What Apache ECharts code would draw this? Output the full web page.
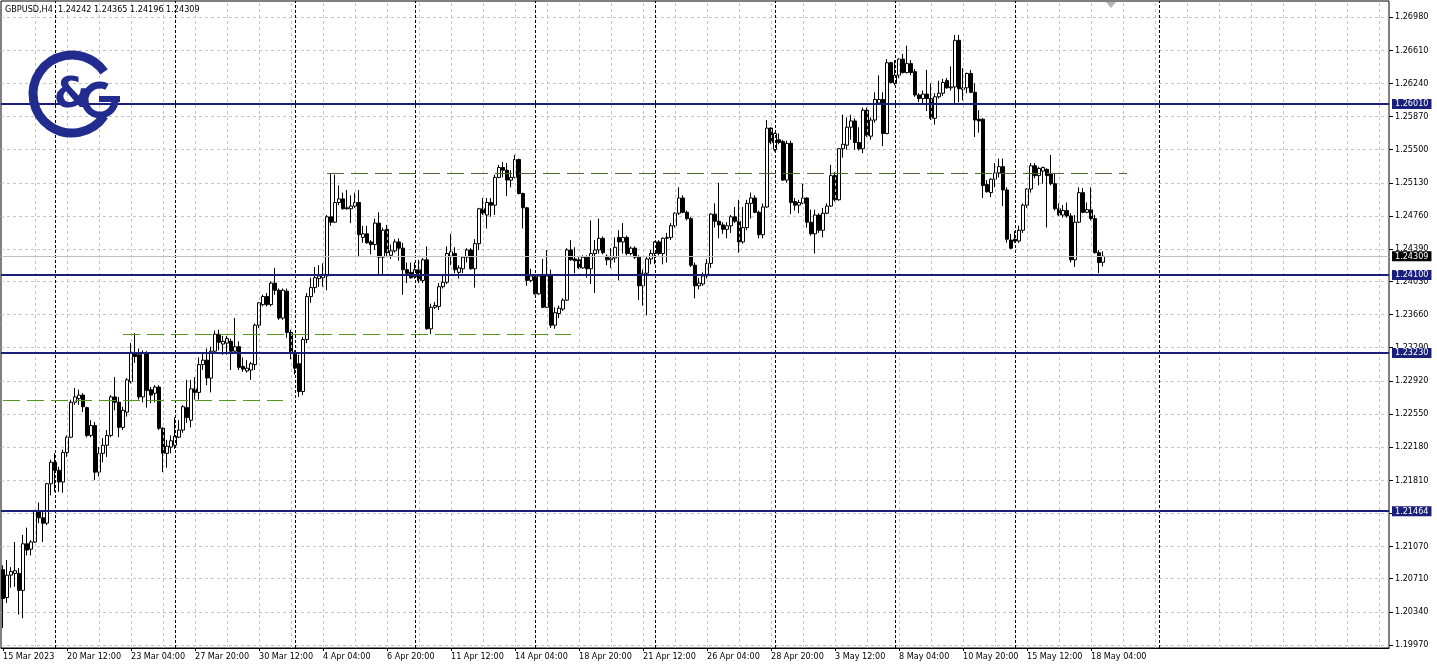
<!DOCTYPE html>
<html><head><meta charset="utf-8">
<script src="https://cdn.jsdelivr.net/npm/echarts@6/dist/echarts.min.js"></script>
<style>html,body{margin:0;padding:0;background:#fff}#c{width:1437px;height:669px}</style>
</head><body><div id="c"></div>
<script>
const FONT = '"DejaVu Sans Condensed","DejaVu Sans","Liberation Sans",sans-serif';
const headerText = 'GBPUSD,H4  1.24242 1.24365 1.24196 1.24309';

// [open, close, low, high] per H4 bar
const candles = [
[1.2081,1.2049,1.2016,1.2086],[1.2050,1.2075,1.2044,1.2092],[1.2075,1.2079,1.2061,1.2084],[1.2077,1.2080,1.2062,1.2112],
[1.2077,1.2058,1.2031,1.2083],[1.2058,1.2110,1.2027,1.2120],[1.2110,1.2103,1.2097,1.2128],[1.2104,1.2112,1.2097,1.2114],
[1.2112,1.2147,1.2111,1.2148],[1.2147,1.2139,1.2133,1.2156],[1.2139,1.2133,1.2112,1.2146],[1.2133,1.2177,1.2131,1.2178],
[1.2177,1.2201,1.2164,1.2204],[1.2201,1.2192,1.2168,1.2211],[1.2192,1.2179,1.2168,1.2196],[1.2179,1.2212,1.2167,1.2215],
[1.2212,1.2229,1.2207,1.2231],[1.2229,1.2268,1.2228,1.2271],[1.2268,1.2274,1.2265,1.2284],[1.2272,1.2276,1.2265,1.2282],
[1.2276,1.2263,1.2257,1.2278],[1.2262,1.2231,1.2229,1.2263],[1.2231,1.2242,1.2229,1.2248],[1.2242,1.2190,1.2181,1.2246],
[1.2190,1.2211,1.2185,1.2218],[1.2211,1.2220,1.2201,1.2228],[1.2220,1.2231,1.2207,1.2237],[1.2231,1.2274,1.2229,1.2276],
[1.2274,1.2268,1.2259,1.2296],[1.2268,1.2240,1.2229,1.2274],[1.2240,1.2259,1.2237,1.2263],[1.2257,1.2293,1.2252,1.2295],
[1.2291,1.2323,1.2289,1.2334],[1.2323,1.2319,1.2312,1.2345],[1.2321,1.2274,1.2271,1.2328],[1.2274,1.2323,1.2268,1.2326],
[1.2323,1.2281,1.2262,1.2325],[1.2282,1.2276,1.2267,1.2285],[1.2278,1.2285,1.2268,1.2287],[1.2285,1.2239,1.2237,1.2287],
[1.2239,1.2211,1.2190,1.2240],[1.2211,1.2219,1.2195,1.2226],[1.2218,1.2225,1.2211,1.2231],[1.2220,1.2230,1.2216,1.2251],
[1.2229,1.2237,1.2228,1.2248],[1.2237,1.2263,1.2234,1.2265],[1.2262,1.2251,1.2245,1.2293],[1.2248,1.2283,1.2240,1.2293],
[1.2283,1.2279,1.2271,1.2296],[1.2279,1.2310,1.2271,1.2318],[1.2310,1.2315,1.2304,1.2322],[1.2315,1.2295,1.2287,1.2328],
[1.2295,1.2325,1.2279,1.2330],[1.2325,1.2344,1.2323,1.2348],[1.2344,1.2335,1.2326,1.2349],[1.2333,1.2336,1.2321,1.2342],
[1.2334,1.2339,1.2321,1.2342],[1.2336,1.2325,1.2304,1.2339],[1.2325,1.2330,1.2323,1.2362],[1.2330,1.2307,1.2304,1.2336],
[1.2308,1.2305,1.2302,1.2318],[1.2303,1.2306,1.2301,1.2315],[1.2304,1.2311,1.2293,1.2313],[1.2310,1.2354,1.2304,1.2356],
[1.2354,1.2379,1.2351,1.2380],[1.2377,1.2386,1.2375,1.2388],[1.2386,1.2377,1.2375,1.2390],[1.2377,1.2401,1.2375,1.2403],
[1.2401,1.2393,1.2388,1.2418],[1.2393,1.2362,1.2360,1.2395],[1.2362,1.2393,1.2360,1.2395],[1.2392,1.2346,1.2340,1.2395],
[1.2346,1.2323,1.2316,1.2349],[1.2323,1.2306,1.2299,1.2326],[1.2311,1.2280,1.2274,1.2321],[1.2280,1.2338,1.2276,1.2341],
[1.2338,1.2386,1.2334,1.2390],[1.2386,1.2396,1.2379,1.2407],[1.2396,1.2407,1.2390,1.2419],[1.2406,1.2409,1.2397,1.2421],
[1.2407,1.2410,1.2397,1.2423],[1.2409,1.2475,1.2393,1.2477],[1.2475,1.2469,1.2465,1.2524],[1.2469,1.2491,1.2468,1.2522],
[1.2491,1.2495,1.2488,1.2510],[1.2495,1.2484,1.2483,1.2502],[1.2485,1.2484,1.2483,1.2505],[1.2484,1.2487,1.2468,1.2499],
[1.2487,1.2491,1.2485,1.2502],[1.2491,1.2455,1.2430,1.2505],[1.2452,1.2456,1.2446,1.2465],[1.2456,1.2446,1.2445,1.2465],
[1.2447,1.2444,1.2433,1.2449],[1.2444,1.2468,1.2438,1.2473],[1.2468,1.2430,1.2410,1.2480],[1.2430,1.2460,1.2410,1.2463],
[1.2461,1.2435,1.2430,1.2466],[1.2432,1.2437,1.2428,1.2444],[1.2437,1.2447,1.2435,1.2450],[1.2447,1.2440,1.2426,1.2451],
[1.2440,1.2416,1.2388,1.2446],[1.2416,1.2412,1.2401,1.2424],[1.2413,1.2407,1.2406,1.2424],[1.2408,1.2416,1.2406,1.2424],
[1.2416,1.2404,1.2401,1.2427],[1.2404,1.2427,1.2401,1.2429],[1.2427,1.2350,1.2349,1.2442],[1.2350,1.2374,1.2344,1.2378],
[1.2374,1.2376,1.2372,1.2380],[1.2375,1.2397,1.2371,1.2401],[1.2397,1.2402,1.2395,1.2409],[1.2402,1.2434,1.2400,1.2442],
[1.2431,1.2436,1.2421,1.2456],[1.2434,1.2416,1.2412,1.2441],[1.2413,1.2418,1.2406,1.2421],[1.2417,1.2430,1.2412,1.2431],
[1.2430,1.2438,1.2424,1.2440],[1.2438,1.2417,1.2416,1.2440],[1.2417,1.2445,1.2396,1.2450],[1.2445,1.2484,1.2438,1.2485],
[1.2484,1.2479,1.2477,1.2496],[1.2477,1.2491,1.2462,1.2496],[1.2491,1.2488,1.2475,1.2496],[1.2488,1.2519,1.2477,1.2522],
[1.2519,1.2530,1.2518,1.2533],[1.2530,1.2527,1.2519,1.2536],[1.2527,1.2516,1.2498,1.2535],[1.2516,1.2519,1.2508,1.2527],
[1.2519,1.2539,1.2518,1.2544],[1.2539,1.2501,1.2500,1.2540],[1.2501,1.2485,1.2462,1.2502],[1.2485,1.2404,1.2398,1.2486],
[1.2404,1.2409,1.2402,1.2417],[1.2408,1.2389,1.2388,1.2409],[1.2389,1.2409,1.2388,1.2411],[1.2409,1.2374,1.2373,1.2428],
[1.2374,1.2409,1.2373,1.2438],[1.2409,1.2354,1.2351,1.2416],[1.2354,1.2368,1.2350,1.2374],[1.2367,1.2373,1.2362,1.2376],
[1.2372,1.2382,1.2370,1.2384],[1.2382,1.2438,1.2381,1.2440],[1.2438,1.2427,1.2426,1.2449],[1.2428,1.2426,1.2412,1.2441],
[1.2427,1.2418,1.2417,1.2430],[1.2418,1.2430,1.2417,1.2432],[1.2430,1.2417,1.2407,1.2432],[1.2417,1.2434,1.2400,1.2471],
[1.2434,1.2438,1.2390,1.2449],[1.2438,1.2451,1.2434,1.2473],[1.2451,1.2435,1.2433,1.2453],[1.2431,1.2427,1.2421,1.2433],
[1.2427,1.2429,1.2418,1.2440],[1.2429,1.2441,1.2424,1.2452],[1.2452,1.2447,1.2404,1.2460],[1.2447,1.2452,1.2434,1.2468],
[1.2452,1.2434,1.2432,1.2454],[1.2434,1.2440,1.2432,1.2442],[1.2440,1.2430,1.2428,1.2442],[1.2430,1.2398,1.2382,1.2432],
[1.2398,1.2412,1.2376,1.2416],[1.2412,1.2428,1.2365,1.2430],[1.2428,1.2434,1.2422,1.2438],[1.2434,1.2447,1.2422,1.2448],
[1.2447,1.2434,1.2432,1.2449],[1.2434,1.2451,1.2422,1.2452],[1.2451,1.2452,1.2424,1.2457],[1.2452,1.2465,1.2449,1.2468],
[1.2465,1.2479,1.2463,1.2480],[1.2479,1.2496,1.2477,1.2508],[1.2496,1.2480,1.2479,1.2499],[1.2480,1.2473,1.2471,1.2482],
[1.2473,1.2421,1.2419,1.2475],[1.2421,1.2398,1.2384,1.2424],[1.2398,1.2401,1.2394,1.2407],[1.2400,1.2409,1.2398,1.2413],
[1.2409,1.2423,1.2406,1.2428],[1.2423,1.2478,1.2418,1.2479],[1.2478,1.2470,1.2463,1.2490],[1.2470,1.2466,1.2451,1.2513],
[1.2466,1.2461,1.2456,1.2469],[1.2461,1.2465,1.2451,1.2469],[1.2465,1.2475,1.2457,1.2477],[1.2475,1.2470,1.2468,1.2486],
[1.2470,1.2447,1.2435,1.2494],[1.2447,1.2463,1.2445,1.2486],[1.2463,1.2490,1.2460,1.2494],[1.2490,1.2496,1.2473,1.2502],
[1.2496,1.2480,1.2479,1.2499],[1.2480,1.2455,1.2451,1.2482],[1.2455,1.2486,1.2451,1.2490],[1.2486,1.2574,1.2485,1.2583],
[1.2574,1.2558,1.2556,1.2575],[1.2550,1.2568,1.2548,1.2569],[1.2561,1.2558,1.2556,1.2568],[1.2559,1.2516,1.2515,1.2561],
[1.2516,1.2557,1.2513,1.2560],[1.2557,1.2491,1.2478,1.2560],[1.2492,1.2488,1.2482,1.2496],[1.2488,1.2491,1.2479,1.2494],
[1.2490,1.2496,1.2489,1.2512],[1.2496,1.2469,1.2463,1.2497],[1.2469,1.2456,1.2454,1.2483],[1.2456,1.2477,1.2434,1.2483],
[1.2477,1.2460,1.2457,1.2479],[1.2460,1.2479,1.2452,1.2485],[1.2479,1.2487,1.2478,1.2490],[1.2487,1.2521,1.2486,1.2533],
[1.2521,1.2494,1.2492,1.2525],[1.2494,1.2551,1.2493,1.2552],[1.2551,1.2556,1.2541,1.2589],[1.2555,1.2575,1.2550,1.2586],
[1.2575,1.2582,1.2561,1.2589],[1.2582,1.2558,1.2550,1.2585],[1.2558,1.2551,1.2549,1.2575],[1.2551,1.2594,1.2546,1.2597],
[1.2594,1.2566,1.2564,1.2597],[1.2565,1.2583,1.2561,1.2586],[1.2583,1.2606,1.2580,1.2614],[1.2602,1.2606,1.2601,1.2633],
[1.2606,1.2568,1.2554,1.2614],[1.2568,1.2647,1.2567,1.2651],[1.2647,1.2625,1.2624,1.2648],[1.2624,1.2633,1.2622,1.2650],
[1.2633,1.2651,1.2630,1.2652],[1.2651,1.2636,1.2635,1.2657],[1.2636,1.2646,1.2635,1.2666],[1.2646,1.2636,1.2633,1.2650],
[1.2637,1.2611,1.2609,1.2640],[1.2611,1.2607,1.2603,1.2613],[1.2607,1.2612,1.2601,1.2616],[1.2612,1.2607,1.2593,1.2639],
[1.2607,1.2585,1.2583,1.2624],[1.2585,1.2609,1.2578,1.2613],[1.2609,1.2613,1.2607,1.2627],[1.2613,1.2625,1.2610,1.2629],
[1.2627,1.2619,1.2618,1.2630],[1.2619,1.2620,1.2616,1.2643],[1.2620,1.2672,1.2602,1.2678],[1.2672,1.2618,1.2603,1.2678],
[1.2617,1.2619,1.2605,1.2641],[1.2619,1.2635,1.2613,1.2636],[1.2635,1.2614,1.2613,1.2639],[1.2614,1.2583,1.2564,1.2624],
[1.2584,1.2582,1.2569,1.2594],[1.2584,1.2510,1.2496,1.2585],[1.2511,1.2503,1.2502,1.2516],[1.2502,1.2517,1.2497,1.2518],
[1.2517,1.2524,1.2508,1.2535],[1.2524,1.2531,1.2519,1.2540],[1.2531,1.2505,1.2487,1.2540],[1.2505,1.2450,1.2446,1.2508],
[1.2449,1.2440,1.2439,1.2456],[1.2450,1.2448,1.2446,1.2459],[1.2448,1.2460,1.2446,1.2465],[1.2460,1.2488,1.2457,1.2490],
[1.2488,1.2506,1.2485,1.2507],[1.2506,1.2532,1.2502,1.2535],[1.2532,1.2521,1.2518,1.2535],[1.2521,1.2529,1.2510,1.2531],
[1.2526,1.2530,1.2512,1.2531],[1.2528,1.2521,1.2463,1.2529],[1.2523,1.2512,1.2510,1.2544],[1.2512,1.2484,1.2482,1.2523],
[1.2484,1.2477,1.2476,1.2490],[1.2477,1.2482,1.2474,1.2488],[1.2482,1.2476,1.2474,1.2491],[1.2476,1.2427,1.2424,1.2479],
[1.2427,1.2469,1.2419,1.2477],[1.2469,1.2502,1.2468,1.2508],[1.2502,1.2480,1.2479,1.2507],[1.2480,1.2483,1.2479,1.2491],
[1.2483,1.2473,1.2471,1.2508],[1.2473,1.2435,1.2434,1.2477],[1.2435,1.2424,1.2412,1.2438],[1.24242,1.24309,1.24196,1.24365]
];

const xTickLabels = ['15 Mar 2023','20 Mar 12:00','23 Mar 04:00','27 Mar 20:00','30 Mar 12:00','4 Apr 04:00',
  '6 Apr 20:00','11 Apr 12:00','14 Apr 04:00','18 Apr 20:00','21 Apr 12:00','26 Apr 04:00','28 Apr 20:00',
  '3 May 12:00','8 May 04:00','10 May 20:00','15 May 12:00','18 May 04:00'];
const priceTicks = [1.1997,1.2034,1.2071,1.2107,1.2144,1.2181,1.2218,1.2255,1.2292,1.2329,
  1.2366,1.2403,1.2439,1.2476,1.2513,1.2550,1.2587,1.2624,1.2661,1.2698];
const navyLevels = [1.26010, 1.24100, 1.23230, 1.21464];
const bidPrice = 1.24309;
// [startBar, endBar, price]
const greenSegments = [[0, 70, 1.2270], [30, 142, 1.2344]];
const oliveSegments = [[81, 281, 1.2524]];
const weekStartBars = [13, 43, 73, 103, 133, 163, 193, 223, 253, 289];
const slotCount = 347;
const labelEvery = 16;
const gridEvery = 8;

const NAVY = '#1b1f7c';
const chart = echarts.init(document.getElementById('c'), null, {renderer: 'canvas'});
const cats = Array.from({length: slotCount}, (_, i) => String(i));
const lastLabelIdx = (xTickLabels.length - 1) * labelEvery;
const vGrid = [];
for (let i = gridEvery; i < slotCount; i += gridEvery) vGrid.push({xAxis: i});

const levelLabel = (bg, txt) => ({
  show: true, position: 'end', distance: 3, color: '#fff', backgroundColor: bg,
  padding: [1, 3, 0, 3], fontSize: 9, fontFamily: FONT, formatter: txt
});

const markData = [];
greenSegments.forEach(s => markData.push([
  {coord: [s[0], s[2]], lineStyle: {color: '#4f9a1c', width: 1, type: [17, 7]}, label: {show: false}},
  {coord: [s[1], s[2]]}
]));
oliveSegments.forEach(s => markData.push([
  {coord: [s[0], s[2]], lineStyle: {color: '#4a6a34', width: 1, type: [17, 7]}, label: {show: false}},
  {coord: [s[1], s[2]]}
]));
markData.push({yAxis: bidPrice, lineStyle: {color: '#c0c0c0', width: 1, type: 'solid'}, label: levelLabel('#000', bidPrice.toFixed(5))});
navyLevels.forEach(v => markData.push({yAxis: v, lineStyle: {color: NAVY, width: 2, type: 'solid'}, label: levelLabel(NAVY, v.toFixed(5))}));

const option = {
  animation: false,
  backgroundColor: '#fff',
  grid: {left: 1, right: 48, top: 1, bottom: 21, show: true, borderColor: '#000', borderWidth: 1, backgroundColor: '#fff'},
  xAxis: {
    type: 'category', data: cats, boundaryGap: true,
    axisLine: {show: true, lineStyle: {color: '#000', width: 1}},
    axisTick: {show: true, alignWithLabel: true, length: 3, lineStyle: {color: '#000'},
      interval: (i) => i % labelEvery === 0 && i <= lastLabelIdx},
    axisLabel: {interval: (i) => i % labelEvery === 0 && i <= lastLabelIdx, align: 'left', margin: 4,
      fontSize: 9, fontFamily: FONT, color: '#000',
      formatter: (v, i) => xTickLabels[i / labelEvery] || ''},
    splitLine: {show: false}
  },
  yAxis: {
    type: 'value', position: 'right', min: 1.19937, max: 1.27159, scale: true,
    axisLine: {show: false},
    axisTick: {show: true, customValues: priceTicks, length: 4, lineStyle: {color: '#000'}},
    axisLabel: {customValues: priceTicks, formatter: v => v.toFixed(5), fontSize: 9, fontFamily: FONT, color: '#000', margin: 6},
    splitLine: {show: true, lineStyle: {color: '#c4c4c4', type: [3, 3], width: 1}}
  },
  graphic: [
    {type: 'text', x: 5, y: 5, z: 10, style: {text: headerText, fontSize: 9, fontFamily: FONT, fill: '#000', verticalAlign: 'top'}},
    {type: 'polygon', z: 10, shape: {points: [[1106, 2], [1116, 2], [1111, 8]]}, style: {fill: '#b4b4b4'}},
    {type: 'arc', z: 10, shape: {cx: 72, cy: 94, r: 39, startAngle: 0.6, endAngle: 5.68, clockwise: true},
      style: {stroke: '#222b8e', lineWidth: 9, fill: null}},
    {type: 'text', z: 10, x: 72, y: 96, style: {text: '&', fontSize: 42, fontWeight: 'bold', fontFamily: '"DejaVu Sans",sans-serif',
      fill: '#222b8e', align: 'center', verticalAlign: 'middle'}},
    {type: 'arc', z: 10, shape: {cx: 100, cy: 100, r: 15, startAngle: 0, endAngle: 5.2, clockwise: true},
      style: {stroke: '#222b8e', lineWidth: 7, fill: null}},
    {type: 'rect', z: 10, shape: {x: 99, y: 96, width: 21, height: 6}, style: {fill: '#222b8e'}}
  ],
  series: [
    {type: 'line', data: [], z: 1, silent: true,
      markLine: {silent: true, symbol: ['none', 'none'], animation: false, precision: 6, label: {show: false},
        lineStyle: {color: '#c4c4c4', type: [3, 3], width: 1}, data: vGrid}},
    {type: 'line', data: [], z: 1, silent: true,
      markLine: {silent: true, symbol: ['none', 'none'], animation: false, precision: 6, label: {show: false},
        lineStyle: {color: '#000', type: [3, 2], width: 1}, data: weekStartBars.map(i => ({xAxis: i}))}},
    {type: 'candlestick', data: candles, z: 2, barWidth: 3, silent: true,
      itemStyle: {color: '#fff', color0: '#000', borderColor: '#000', borderColor0: '#000', borderWidth: 1}},
    {type: 'line', data: [], z: 3, silent: true,
      markLine: {silent: true, symbol: ['none', 'none'], animation: false, precision: 6, data: markData}}
  ]
};
chart.setOption(option);
</script>
</body></html>
